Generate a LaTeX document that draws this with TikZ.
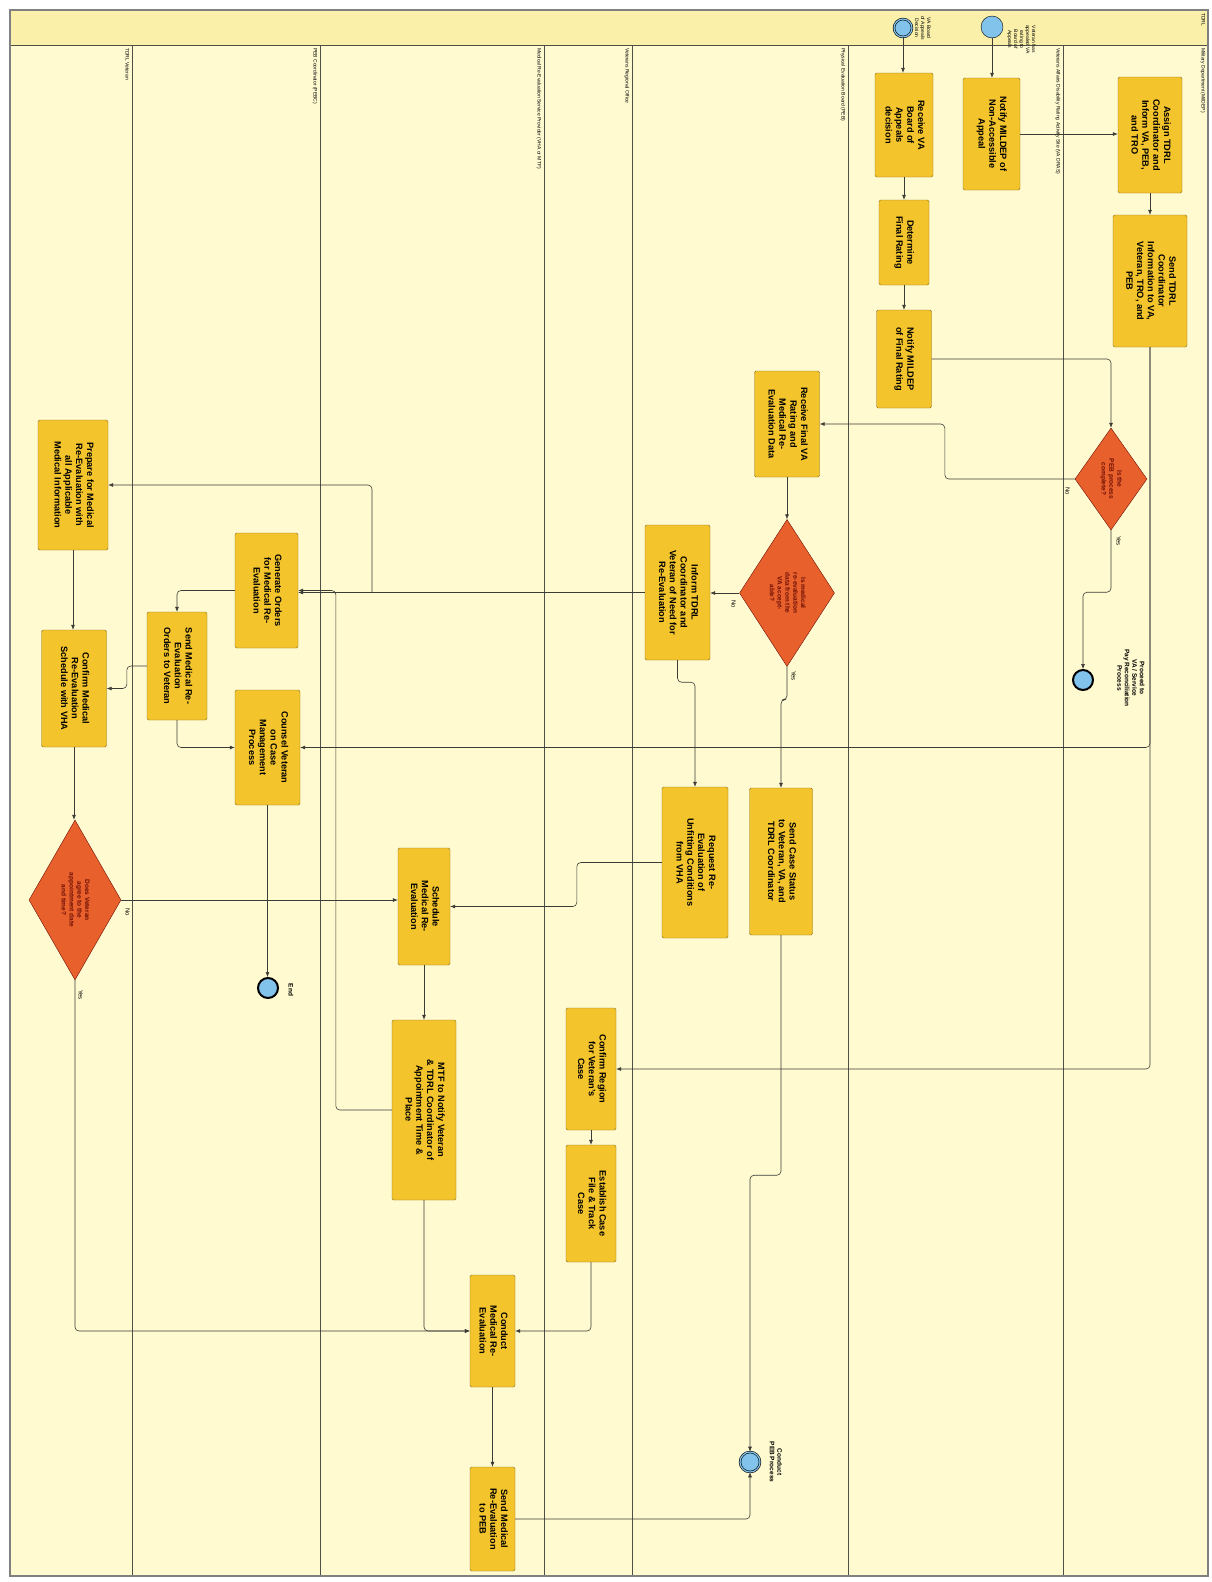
\documentclass[tikz,border=0pt]{standalone}
\usepackage{fontspec}
\setmainfont{Liberation Sans}
\usepackage{graphicx}
\usetikzlibrary{arrows.meta,positioning,shapes.geometric}
\definecolor{LaneFill}{RGB}{255,250,208}
\definecolor{HeadFill}{RGB}{250,240,170}
\definecolor{TaskFill}{RGB}{243,196,44}
\definecolor{TaskEdge}{RGB}{140,110,30}
\definecolor{GateFill}{RGB}{232,96,44}
\definecolor{GateText}{RGB}{110,15,5}
\definecolor{EventFill}{RGB}{130,195,235}
\definecolor{FlowLine}{RGB}{60,60,55}
\definecolor{LaneLine}{RGB}{80,80,70}
\newcommand{\vtext}[1]{\rotatebox{-90}{\begin{tabular}{@{}c@{}}#1\end{tabular}}}

\begin{document}
\begin{tikzpicture}[x=1pt,y=-1pt,>={Latex[length=5pt,width=4pt]},
  task/.style={draw=TaskEdge,fill=TaskFill,rounded corners=1.5pt,inner sep=0pt,
    font={\bfseries\fontsize{9.2}{10.8}\selectfont}},
  gate/.style={diamond,draw=GateText,fill=GateFill,inner sep=0pt},
  gatetext/.style={text=GateText,inner sep=0pt,font={\bfseries\fontsize{6.5}{7.8}\selectfont}},
  event/.style={circle,draw=black,fill=EventFill,inner sep=0pt,minimum size=20pt},
  endevent/.style={event,line width=2pt},
  linkevent/.style={event,double=EventFill,double distance=1.2pt,line width=0.6pt},
  flow/.style={->,draw=FlowLine,line width=0.6pt,rounded corners=4pt},
  lane/.style={draw=LaneLine,line width=0.7pt},
  lanelabel/.style={inner sep=1pt,font={\fontsize{5}{6}\selectfont}},
  tag/.style={inner sep=1pt,font={\fontsize{6}{7}\selectfont}},
  eventtag/.style={inner sep=0pt,font={\bfseries\fontsize{6.5}{7.5}\selectfont}}]
  \useasboundingbox (0,0) rectangle (1212,1582);
  \fill[LaneFill] (10,10) rectangle (1208,1576);
  \fill[HeadFill] (10,10) rectangle (1208,45);
  \draw[lane] (10,45) -- (1208,45);
  \foreach \lx in {132,320,544,632,848,1063}
    \draw[lane] (\lx,45) -- (\lx,1576);
  \draw[gray,line width=1.2pt] (10,10) rectangle (1208,1576);

  \node[lanelabel,anchor=north east] (poolTDRL) at (1207,12) {\vtext{TDRL}};
  \node[lanelabel,anchor=north east] (laneMilDEP) at (1207,47) {\vtext{Military Department (MilDEP)}};
  \node[lanelabel,anchor=north east] (laneDRAS) at (1062,47) {\vtext{Veterans Affairs Disability Rating Activity Site (VA DRAS)}};
  \node[lanelabel,anchor=north east] (lanePEB) at (847,47) {\vtext{Physical Evaluation Board (PEB)}};
  \node[lanelabel,anchor=north east] (laneRegion) at (631,47) {\vtext{Veterans Regional Office}};
  \node[lanelabel,anchor=north east] (laneMTF) at (543,47) {\vtext{Medical Re-Evaluation Service Provider (VHA or MTF)}};
  \node[lanelabel,anchor=north east] (lanePEBC) at (319,47) {\vtext{PEB Coordinator (PEBC)}};
  \node[lanelabel,anchor=north east] (laneVet) at (131,47) {\vtext{TDRL Veteran}};

  % events
  \node[linkevent,minimum size=18pt] (start1) at (903,28) {};
  \node[event,minimum size=22pt] (start2) at (992,27) {};
  \node[lanelabel,anchor=north west] (start1tag) at (912,15) {\vtext{VA Board\\of Appeals\\Decision}};
  \node[lanelabel,anchor=north west] (start2tag) at (1005,24) {\vtext{Veteran has\\appealed VA\\rating to\\Board of\\Appeals}};
  \node[endevent] (end1) at (1083,680) {};
  \node[eventtag] (end1tag) at (1130,678) {\vtext{Proceed to\\VA / Service\\Pay Reconciliation\\Process}};
  \node[endevent] (end2) at (268,988) {};
  \node[eventtag] (end2tag) at (290,990) {\vtext{End}};
  \node[linkevent] (interPEB) at (750,1462) {};
  \node[eventtag] (interPEBtag) at (775,1462) {\vtext{Conduct\\PEB Process}};

  % tasks
  \node[task,minimum width=58pt,minimum height=104pt] (recvBoard) at (904,125) {\vtext{Receive VA\\Board of\\Appeals\\decision}};
  \node[task,minimum width=57pt,minimum height=112pt] (notifyNA) at (991.5,134) {\vtext{Notify MILDEP of\\Non-Accessible\\Appeal}};
  \node[task,minimum width=64pt,minimum height=116pt] (assign) at (1150,135) {\vtext{Assign TDRL\\Coordinator and\\Inform VA, PEB,\\and TRO}};
  \node[task,minimum width=74pt,minimum height=132pt] (sendInfo) at (1150,281) {\vtext{Send TDRL\\Coordinator\\Information to VA,\\Veteran, TRO, and\\PEB}};
  \node[task,minimum width=50pt,minimum height=85pt] (determine) at (904,242.5) {\vtext{Determine\\Final Rating}};
  \node[task,minimum width=55pt,minimum height=98pt] (notifyFinal) at (904,359) {\vtext{Notify MILDEP\\of Final Rating}};
  \node[task,minimum width=65pt,minimum height=106pt] (recvFinal) at (787,424) {\vtext{Receive Final VA\\Rating and\\Medical Re-\\Evaluation Data}};
  \node[task,minimum width=65pt,minimum height=135pt] (inform) at (677.5,592.5) {\vtext{Inform TDRL\\Coordinator and\\Veteran of Need for\\Re-Evaluation}};
  \node[task,minimum width=66pt,minimum height=151pt] (request) at (695,862.5) {\vtext{Request Re-\\Evaluation of\\Unfitting Conditions\\from VHA}};
  \node[task,minimum width=63pt,minimum height=147pt] (sendStatus) at (781,861.5) {\vtext{Send Case Status\\to Veteran, VA, and\\TDRL Coordinator}};
  \node[task,minimum width=70pt,minimum height=130pt] (prepare) at (73,485) {\vtext{Prepare for Medical\\Re-Evaluation with\\all Applicable\\Medical Information}};
  \node[task,minimum width=63pt,minimum height=115pt] (generate) at (266.5,590.5) {\vtext{Generate Orders\\for Medical Re-\\Evaluation}};
  \node[task,minimum width=60pt,minimum height=108pt] (sendOrders) at (177,666) {\vtext{Send Medical Re-\\Evaluation\\Orders to Veteran}};
  \node[task,minimum width=65pt,minimum height=115pt] (counsel) at (267.5,747.5) {\vtext{Counsel Veteran\\on Case\\Management\\Process}};
  \node[task,minimum width=65pt,minimum height=117pt] (confirmSched) at (74,688.5) {\vtext{Confirm Medical\\Re-Evaluation\\Schedule with VHA}};
  \node[task,minimum width=52pt,minimum height=117pt] (schedule) at (424,906.5) {\vtext{Schedule\\Medical Re-\\Evaluation}};
  \node[task,minimum width=64pt,minimum height=180pt] (mtf) at (424,1110) {\vtext{MTF to Notify Veteran\\\& TDRL Coordinator of\\Appointment Time \&\\Place}};
  \node[task,minimum width=50pt,minimum height=122pt] (confirmRegion) at (591,1069) {\vtext{Confirm Region\\for Veteran's\\Case}};
  \node[task,minimum width=50pt,minimum height=117pt] (establish) at (591,1203.5) {\vtext{Establish Case\\File \& Track\\Case}};
  \node[task,minimum width=45pt,minimum height=112pt] (conduct) at (492.5,1331) {\vtext{Conduct\\Medical Re-\\Evaluation}};
  \node[task,minimum width=45pt,minimum height=104pt] (sendPEB) at (492.5,1519) {\vtext{Send Medical\\Re-Evaluation\\to PEB}};

  % gateways
  \node[gate,minimum width=72pt,minimum height=102pt] (gateDone) at (1111,479) {};
  \node[gatetext] (gateDoneText) at (1111,479) {\vtext{Is the\\PEB process\\complete?}};
  \node[gate,minimum width=95pt,minimum height=147pt] (gateData) at (787,593) {};
  \node[gatetext] (gateDataText) at (787,593) {\vtext{Is medical\\re-evaluation\\data from the\\VA accept-\\able?}};
  \node[gate,minimum width=92pt,minimum height=160pt] (gateAgree) at (75,900) {};
  \node[gatetext] (gateAgreeText) at (75,900) {\vtext{Does Veteran\\agree to the\\appointment date\\and time?}};

  \node[tag] (doneNo) at (1067,491) {\vtext{No}};
  \node[tag] (doneYes) at (1118,541) {\vtext{Yes}};
  \node[tag] (dataNo) at (733,604) {\vtext{No}};
  \node[tag] (dataYes) at (793,676) {\vtext{Yes}};
  \node[tag] (agreeNo) at (127,912) {\vtext{No}};
  \node[tag] (agreeYes) at (80,995) {\vtext{Yes}};

  \coordinate (splitPrep) at (372,592.5);

  % flows
  \draw[flow] (start1) -- (start1 |- recvBoard.north);
  \draw[flow] (start2) -- (start2 |- notifyNA.north);
  \draw[flow] (recvBoard.south) -- (determine.north);
  \draw[flow] (determine.south) -- (notifyFinal.north);
  \draw[flow] (notifyNA.east) -- (notifyNA.east -| assign.west);
  \draw[flow] (assign.south) -- (sendInfo.north);
  \draw[flow] (notifyFinal.east) -| (gateDone.north);
  \draw[flow] (gateDone.west) -- ++(-130,0) |- (recvFinal.east);
  \draw[flow] (gateDone.south) -- ++(0,62) -| (end1.north);
  \draw[flow] (recvFinal.south) -- (gateData.north);
  \draw[flow] (gateData.west) -- (gateData.west -| inform.east);
  \draw[flow] (gateData.south) -- ++(0,33) -| (sendStatus.north);
  \draw[flow] (inform.south) -- ++(0,22) -| (request.north);
  \draw[flow] (inform.west) -- (inform.west -| generate.east);
  \draw[flow] (splitPrep) |- (prepare.east);
  \draw[flow] (sendInfo.south) |- (counsel.east);
  \draw[flow] (sendInfo.south) |- (confirmRegion.east);
  \draw[flow] (request.west) -- ++(-85,0) |- (schedule.east);
  \draw[flow] (gateAgree.east) -- (gateAgree.east -| schedule.west);
  \draw[flow] (schedule.south) -- (mtf.north);
  \draw[flow] (mtf.west) -- ++(-56,0) |- (generate.east);
  \draw[flow] (generate.west) -| (sendOrders.north);
  \draw[flow] (sendOrders.west) -- ++(-20,0) |- (confirmSched.east);
  \draw[flow] (sendOrders.south) |- (counsel.west);
  \draw[flow] (prepare.south) -- (prepare.south |- confirmSched.north);
  \draw[flow] (confirmSched.south) -- (confirmSched.south |- gateAgree.north);
  \draw[flow] (gateAgree.south) |- (conduct.west);
  \draw[flow] (mtf.south) |- (conduct.west);
  \draw[flow] (establish.south) |- (conduct.east);
  \draw[flow] (confirmRegion.south) -- (establish.north);
  \draw[flow] (conduct.south) -- (sendPEB.north);
  \draw[flow] (sendPEB.east) -| (interPEB.south);
  \draw[flow] (sendStatus.south) -- ++(0,240) -| (interPEB.north);
  \draw[flow] (counsel.south) -- (counsel.south |- end2.north);
\end{tikzpicture}
\end{document}
